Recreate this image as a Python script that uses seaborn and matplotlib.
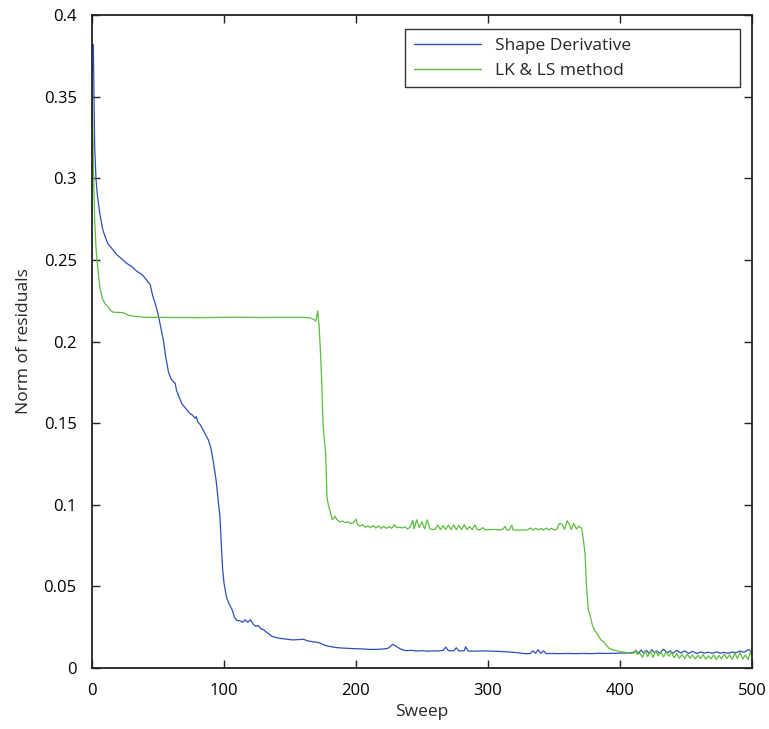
import matplotlib
matplotlib.use("Agg")
import matplotlib.pyplot as plt
import seaborn as sns
import pandas as pd

# ---- data ----
sd_sweep = [1, 2, 3, 4, 6, 8, 10, 12, 14, 16, 19, 22, 26, 30, 34, 38, 42, 44, 46, 48, 50,
            52, 54, 56, 58, 60, 62, 63, 64, 66, 68, 70, 72, 74, 76, 78, 79, 80, 82, 84, 86,
            88, 90, 92, 94, 96, 97, 98, 99, 100, 102, 104, 106, 108, 110, 112, 114, 116,
            118, 120, 122, 124, 126, 128, 130, 132, 134, 136, 138, 140, 144, 148, 152, 156,
            160, 164, 168, 172, 176, 180, 185, 190, 195, 200, 205, 210, 215, 220, 224, 228,
            231, 234, 238, 242, 246, 250, 254, 258, 262, 266, 268, 270, 274, 276, 278, 282,
            283, 285, 290, 296, 300, 305, 310, 316, 322, 328, 332, 334, 336, 338, 340, 342,
            344, 348, 354, 360, 366, 372, 378, 384, 390, 396, 402, 406, 410, 412, 414, 416,
            418, 420, 422, 424, 426, 428, 430, 433, 436, 438, 440, 443, 446, 449, 452, 455,
            458, 461, 464, 467, 470, 473, 476, 479, 482, 485, 488, 491, 494, 497, 500]
sd_norm = [0.382, 0.32, 0.30, 0.29, 0.278, 0.269, 0.264, 0.260, 0.258, 0.256, 0.253, 0.251,
           0.248, 0.246, 0.243, 0.241, 0.237, 0.235, 0.228, 0.223, 0.217, 0.209, 0.201, 0.190,
           0.181, 0.177, 0.175, 0.1745, 0.170, 0.166, 0.162, 0.160, 0.158, 0.156, 0.155, 0.153,
           0.154, 0.151, 0.149, 0.146, 0.143, 0.140, 0.135, 0.126, 0.115, 0.100, 0.092, 0.075,
           0.060, 0.052, 0.043, 0.039, 0.036, 0.031, 0.029, 0.029, 0.028, 0.0295, 0.028,
           0.0295, 0.027, 0.0255, 0.026, 0.024, 0.0235, 0.022, 0.021, 0.0195, 0.019, 0.0185,
           0.018, 0.0176, 0.0172, 0.0174, 0.0176, 0.0165, 0.016, 0.0155, 0.014, 0.0132,
           0.0125, 0.0122, 0.012, 0.0118, 0.0117, 0.0114, 0.0114, 0.0116, 0.012, 0.0145,
           0.013, 0.0115, 0.0106, 0.0108, 0.0104, 0.0106, 0.0103, 0.0105, 0.0104, 0.0108,
           0.0128, 0.0106, 0.0105, 0.0124, 0.0104, 0.0106, 0.013, 0.0104, 0.0103, 0.0105,
           0.0104, 0.0103, 0.0101, 0.0098, 0.0094, 0.0088, 0.0088, 0.0105, 0.009, 0.0112,
           0.009, 0.0105, 0.0088, 0.0089, 0.0088, 0.0089, 0.0088, 0.0089, 0.0088, 0.009,
           0.0089, 0.009, 0.0091, 0.0092, 0.0095, 0.0105, 0.009, 0.011, 0.0092, 0.0108,
           0.009, 0.0112, 0.0095, 0.0104, 0.009, 0.0115, 0.0093, 0.0105, 0.009, 0.0108,
           0.0092, 0.0104, 0.009, 0.0102, 0.0089, 0.0098, 0.0092, 0.0096, 0.009, 0.0099,
           0.0091, 0.0096, 0.009, 0.0098, 0.0094, 0.0104, 0.0096, 0.0112, 0.0104]

lk_sweep = [0, 1, 2, 3, 4, 5, 6, 8, 10, 12, 14, 16, 20, 24, 28, 32, 40, 50, 60, 70, 80, 90,
            100, 110, 120, 130, 140, 150, 160, 165, 168, 169.5, 171, 172, 173, 174, 175, 176,
            177, 178, 179, 180, 182, 183, 184, 186, 188, 190, 192, 194, 196, 198, 200, 201,
            203, 205, 207, 209, 211, 213, 215, 217, 219, 221, 223, 225, 227, 229, 231, 233,
            235, 237, 239, 241, 243, 244, 246, 248, 250, 252, 254, 256, 258, 260, 262, 264,
            266, 268, 270, 272, 274, 276, 278, 280, 282, 284, 286, 288, 290, 292, 294, 296,
            298, 300, 302, 305, 308, 311, 313, 314, 316, 318, 319, 322, 326, 330, 332, 334,
            336, 338, 340, 342, 344, 346, 348, 350, 352, 354, 356, 358, 360, 362, 363, 365,
            367, 369, 371, 372, 373.5, 374.5, 376, 377, 378, 379, 381, 382, 384, 386, 388,
            390, 392, 395, 398, 400, 403, 406, 409, 411, 412, 413, 415, 417, 419, 421, 423,
            425, 427, 429, 431, 433, 435, 437, 439, 441, 443, 445, 447, 449, 451, 453, 455,
            457, 459, 461, 463, 465, 467, 469, 471, 473, 475, 477, 479, 481, 483, 485, 487,
            489, 491, 493, 495, 497, 499, 500]
lk_norm = [0.359, 0.31, 0.275, 0.258, 0.248, 0.24, 0.233, 0.226, 0.223, 0.2215, 0.219, 0.218,
           0.2178, 0.2176, 0.216, 0.2155, 0.2148, 0.2148, 0.2147, 0.2147, 0.2146, 0.2147,
           0.2148, 0.2149, 0.2148, 0.2147, 0.2148, 0.2148, 0.2148, 0.2145, 0.2135, 0.2125,
           0.2187, 0.210, 0.195, 0.176, 0.150, 0.140, 0.132, 0.105, 0.100, 0.097, 0.091,
           0.0915, 0.093, 0.0905, 0.0895, 0.090, 0.089, 0.0895, 0.0885, 0.089, 0.0912,
           0.0885, 0.0868, 0.0878, 0.0862, 0.087, 0.086, 0.0873, 0.0858, 0.087, 0.0855,
           0.0868, 0.0855, 0.0866, 0.0855, 0.0878, 0.086, 0.0862, 0.0858, 0.0865, 0.0852,
           0.0862, 0.0905, 0.0852, 0.0908, 0.086, 0.0895, 0.0852, 0.0908, 0.0852, 0.0848,
           0.085, 0.0875, 0.0848, 0.0872, 0.0848, 0.0875, 0.0848, 0.0876, 0.0848, 0.0874,
           0.0848, 0.0878, 0.0848, 0.0866, 0.0848, 0.0876, 0.0846, 0.0848, 0.086, 0.0846,
           0.0848, 0.0847, 0.0849, 0.0846, 0.0848, 0.0868, 0.0846, 0.0845, 0.0874, 0.0845,
           0.0845, 0.0845, 0.0846, 0.0858, 0.0845, 0.0856, 0.0846, 0.0855, 0.0845, 0.0857,
           0.0846, 0.0856, 0.0846, 0.0848, 0.0885, 0.0882, 0.085, 0.0902, 0.0875, 0.0848,
           0.0885, 0.0852, 0.0868, 0.0855, 0.080, 0.0702, 0.0519, 0.0355, 0.0335, 0.0300,
           0.0265, 0.0225, 0.022, 0.0190, 0.0168, 0.0158, 0.0135, 0.012, 0.011, 0.0105,
           0.0100, 0.0097, 0.0093, 0.009, 0.0092, 0.0112, 0.0082, 0.009, 0.0066, 0.0105,
           0.0070, 0.0102, 0.0065, 0.0104, 0.0075, 0.0098, 0.0068, 0.0100, 0.0072, 0.0095,
           0.0063, 0.0088, 0.0060, 0.0082, 0.0058, 0.0085, 0.0060, 0.0080, 0.0055, 0.0078,
           0.0058, 0.0082, 0.0054, 0.0075, 0.0056, 0.008, 0.0052, 0.0077, 0.0055, 0.0085,
           0.0058, 0.0080, 0.0052, 0.0092, 0.0058, 0.0095, 0.0055, 0.008, 0.0052, 0.0105,
           0.006]

series_labels = ["Shape Derivative", "LK & LS method"]
x_ticks = [0, 100, 200, 300, 400, 500]
y_ticks = [0, 0.05, 0.1, 0.15, 0.2, 0.25, 0.3, 0.35, 0.4]
y_tick_labels = ["0", "0.05", "0.1", "0.15", "0.2", "0.25", "0.3", "0.35", "0.4"]

# ---- plotting ----
sns.set_theme(style="white")
plt.rcParams["font.family"] = ["Open Sans", "DejaVu Sans"]

fig = plt.figure(figsize=(7.69, 7.29), dpi=100)
ax = fig.add_axes([92 / 769, 1 - 668 / 729, 660 / 769, 653 / 729])

sd_df = pd.DataFrame({"Sweep": sd_sweep, "Norm": sd_norm})
lk_df = pd.DataFrame({"Sweep": lk_sweep, "Norm": lk_norm})
sns.lineplot(data=sd_df, x="Sweep", y="Norm", ax=ax, color="#2f4fb8", lw=0.9,
             estimator=None, sort=False, label=series_labels[0])
sns.lineplot(data=lk_df, x="Sweep", y="Norm", ax=ax, color="#5bbd3c", lw=0.9,
             estimator=None, sort=False, label=series_labels[1])

ax.set_xlim(0, 500)
ax.set_ylim(0, 0.4)
ax.set_xticks(x_ticks)
ax.set_xticklabels([str(t) for t in x_ticks])
ax.set_yticks(y_ticks)
ax.set_yticklabels(y_tick_labels)
ax.tick_params(direction="in", length=6, width=1, colors="#222222", labelcolor="black",
               labelsize=12, top=True, right=True, bottom=True, left=True)
ax.tick_params(axis="x", pad=10.5)
ax.tick_params(axis="y", pad=11)
for s in ax.spines.values():
    s.set_color("#222222")
    s.set_linewidth(1.3)
ax.set_xlabel("Sweep", fontsize=12.5, labelpad=4)
ax.set_ylabel("Norm of residuals", fontsize=12.5, labelpad=8)

leg = ax.legend(loc="upper left", bbox_to_anchor=((405 - 92) / 660, (668 - 29) / 653,
                                                   (740 - 405) / 660, 0.0),
                mode="expand", borderaxespad=0, frameon=True, fancybox=False,
                edgecolor="black", fontsize=12.5, handlelength=3.9, handletextpad=0.8,
                borderpad=0.5, labelspacing=0.5)
leg.get_frame().set_linewidth(1.0)
for line in leg.get_lines():
    line.set_linewidth(1.0)

fig.savefig("out.png", dpi=100)
